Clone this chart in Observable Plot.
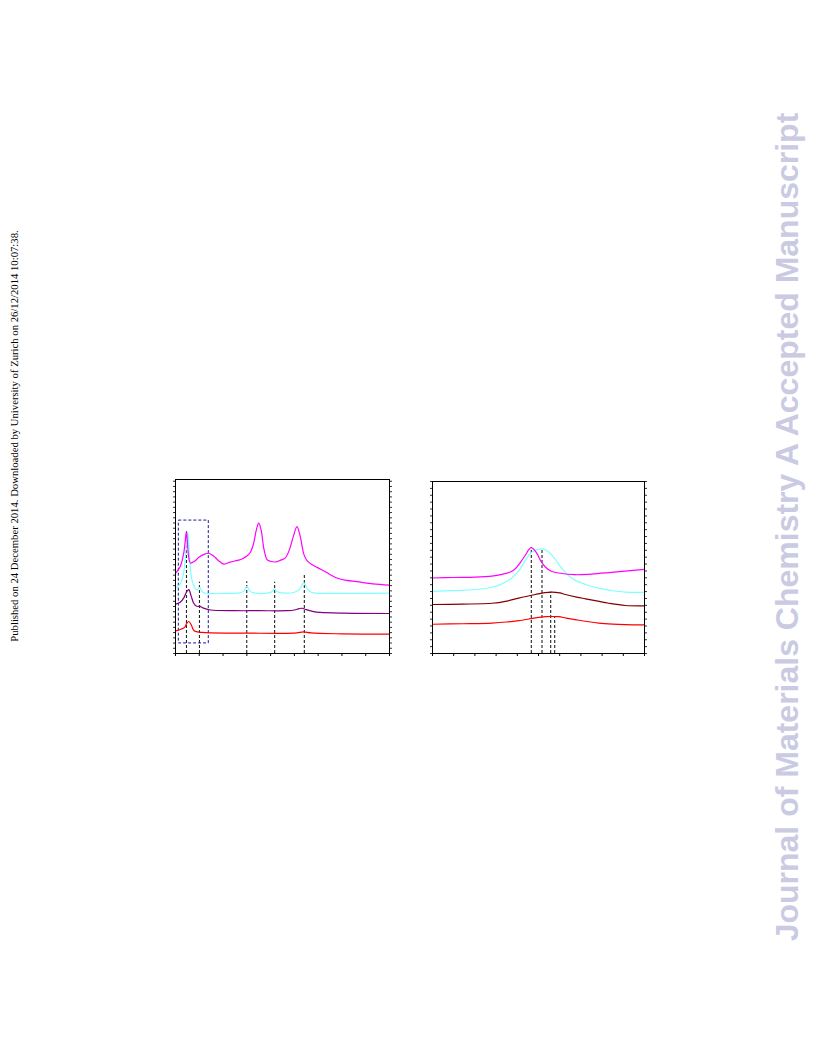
<!DOCTYPE html>
<html>
<head>
<meta charset="utf-8">
<script src="https://cdn.jsdelivr.net/npm/d3@7"></script>
<script src="https://cdn.jsdelivr.net/npm/@observablehq/plot@0.6"></script>
<style>
  html, body { margin: 0; padding: 0; background: #fff; }
  #page { position: relative; width: 816px; height: 1056px; overflow: hidden; background: #fff; }
  .panel { position: absolute; }
  .rot { position: absolute; white-space: nowrap; transform: translate(-50%, -50%) rotate(-90deg); }
  #pub { left: 14px; top: 436px; font-family: "Liberation Serif", "Times New Roman", serif; font-size: 10.7px; color: #000; }
  #wm { left: 787px; top: 527px; font-family: "Liberation Sans", Arial, sans-serif; font-weight: bold; font-size: 32px; color: #cacae3; }
</style>
</head>
<body>
<div id="page">
  <div id="pub" class="rot">Published on 24 December 2014. Downloaded by University of Zurich on 26/12/2014 10:07:38.</div>
  <div id="wm" class="rot">Journal of Materials Chemistry A Accepted Manuscript</div>
  <div id="left" class="panel" style="left:165px;top:470px"></div>
  <div id="right" class="panel" style="left:422px;top:470px"></div>
</div>
<script>
// ---------- Left panel data (arbitrary x units 0–900, intensity 0–100) ----------
const leftTicksX = [0, 100, 200, 300, 400, 500, 600, 700, 800, 900];
const leftTicksY = d3.range(0, 101, 3);
const leftMagenta = [[0,46],[20,50],[35,58],[42,66],[46,70],[50,64],[56,55],[63,52],[80,53],[100,55.5],[120,57],[140,57.6],[160,56],[180,53.5],[203,51.4],[230,52.5],[260,53.5],[280,54.3],[300,56],[315,58.2],[328,63],[340,71],[350,74.9],[360,71],[372,60],[385,54],[400,53],[420,52.6],[440,53.5],[462,55],[480,60],[495,67],[511,72.9],[525,67],[540,57],[553,53.4],[575,51],[595,49.5],[630,47],[679,43.4],[720,42],[763,41.3],[830,40],[900,39.3]];
const leftCyan = [[0,37.6],[20,40],[35,47],[44,60],[51.8,70],[58,58],[64,47],[70,41.8],[80,38],[91,36.5],[102,38],[112,35.5],[130,34.5],[200,34.6],[270,34.8],[288,36],[300,38.6],[312,36],[330,34.8],[390,34.8],[408,35.8],[417,37],[426,35.6],[450,34.8],[500,35.2],[522,37],[539,40.7],[555,37],[575,35],[650,34.6],[900,34.7]];
const leftPurple = [[0,28.4],[20,29.5],[35,32],[47,35.5],[56,36.7],[66,33],[76,29],[84,27.6],[95,27],[102,27.2],[115,26.2],[147,25],[250,24.6],[350,24.6],[470,24.6],[500,25],[520,25.8],[532,26],[550,25.2],[580,24.1],[609,23.6],[700,23.2],[900,23]];
const leftRed = [[0,13],[20,13.8],[38,15],[48,17.5],[56,18.4],[66,16.5],[76,13.5],[84,12.7],[110,12.1],[147,11.8],[300,11.7],[450,11.6],[510,11.9],[539,12.4],[570,11.8],[700,11.3],[900,11.1]];
const leftDashX = [46.2, 100.8, 299.6, 417, 541.8];
const leftDashTop = [70, 40.9, 41.3, 40.9, 45.1];
const leftBox = [14, 140, 5.8, 76.4]; // x1, x2, y1, y2

// ---------- Right panel data (arbitrary x units 0–1000, intensity 0–100) ----------
const rightTicksX = [0, 100, 200, 300, 400, 500, 600, 700, 800, 900, 1000];
const rightTicksY = d3.range(0, 101, 4);
const rightMagenta = [[0,43.9],[100,44.2],[201.6,44.4],[280,45],[327.6,46],[370,47.5],[390.6,49.3],[415,53],[437.8,57.1],[455,60.5],[466.1,61.6],[478,60.5],[492.9,58.1],[510,54],[532.3,50.3],[560,47.8],[595.3,46.8],[674,45.8],[750,46.2],[831.5,47],[1000,48.9]];
const rightCyan = [[0,36.1],[100,36.6],[201.6,37.2],[280,38.5],[327.6,40.5],[370,43.5],[406.3,48],[430,52.5],[453.5,57.1],[480,59.8],[516.5,60.8],[540,59.8],[563.8,57.1],[590,53],[611,49.3],[640,45.5],[674,42.5],[730,39.8],[784.2,38],[850,36.5],[910.2,35.7],[1000,35.5]];
const rightDarkRed = [[0,28.5],[140,28.7],[280.3,29.2],[350,30.5],[406.3,32.2],[485,34.3],[530,35.4],[563.8,35.7],[600,35.2],[626.8,34.3],[680,32.8],[721.3,31.8],[780,30.4],[831.5,29.2],[910.2,27.9],[1000,27.7]];
const rightRed = [[0,17],[140,17.3],[280.3,17.7],[350,18.3],[406.3,19.1],[485,20.7],[532.3,21.4],[560,21.5],[595.3,21.4],[630,20.6],[674,19.7],[730,18.6],[784.2,17.7],[850,17.1],[910.2,16.8],[1000,16.6]];
const rightDashX = [466.1, 516.5, 557.5, 576.4];
const rightDashTop = [61.6, 60.8, 35.7, 21.4];

function panel(opts) {
  const {width, height, ml, mr, mt, mb, xDomain, ticksX, ticksY, series, dashX, dashTop, box} = opts;
  const dash = dashX.map((x, i) => ({x, y1: 0, y2: dashTop[i]}));
  const marks = [
    Plot.axisX({ticks: ticksX, tickFormat: () => "", tickSize: 3, stroke: "#000", label: null}),
    Plot.axisY({ticks: ticksY, tickFormat: () => "", tickSize: 2, stroke: "#333", anchor: "left", label: null}),
    Plot.axisY({ticks: ticksY, tickFormat: () => "", tickSize: 2, stroke: "#333", anchor: "right", label: null}),
    Plot.ruleX(dash, {x: "x", y1: "y1", y2: "y2", stroke: "#222", strokeWidth: 1.1, strokeDasharray: "3,2"})
  ];
  if (box) {
    marks.push(Plot.rect([{x1: box[0], x2: box[1], y1: box[2], y2: box[3]}],
      {x1: "x1", x2: "x2", y1: "y1", y2: "y2", fill: "none", stroke: "#1a1a99", strokeWidth: 1, strokeDasharray: "3,2"}));
  }
  for (const s of series) {
    marks.push(Plot.line(s.data, {x: d => d[0], y: d => d[1], stroke: s.color, strokeWidth: s.w || 1.2, curve: "catmull-rom"}));
  }
  marks.push(Plot.frame({stroke: "#000", strokeWidth: 1}));
  return Plot.plot({
    width, height,
    marginLeft: ml, marginRight: mr, marginTop: mt, marginBottom: mb,
    x: {domain: xDomain, label: null},
    y: {domain: [0, 100], label: null},
    style: {background: "transparent", overflow: "visible"},
    marks
  });
}

document.getElementById("left").appendChild(panel({
  width: 235, height: 195, ml: 10, mr: 11, mt: 9, mb: 12,
  xDomain: [0, 900], ticksX: leftTicksX, ticksY: leftTicksY,
  series: [
    {data: leftRed, color: "#ff0000"},
    {data: leftPurple, color: "#800080"},
    {data: leftCyan, color: "#80ffff"},
    {data: leftMagenta, color: "#ff00ff"}
  ],
  dashX: leftDashX, dashTop: leftDashTop, box: leftBox
}));

document.getElementById("right").appendChild(panel({
  width: 232, height: 195, ml: 10, mr: 10, mt: 11, mb: 12,
  xDomain: [0, 1000], ticksX: rightTicksX, ticksY: rightTicksY,
  series: [
    {data: rightRed, color: "#ff0000"},
    {data: rightDarkRed, color: "#800000"},
    {data: rightCyan, color: "#80ffff"},
    {data: rightMagenta, color: "#ff00ff"}
  ],
  dashX: rightDashX, dashTop: rightDashTop, box: null
}));
</script>
</body>
</html>
